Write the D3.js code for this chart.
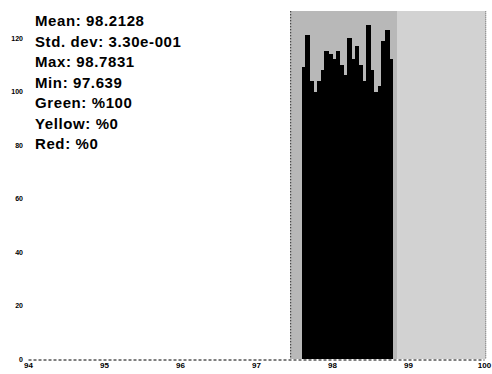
<!DOCTYPE html>
<html><head><meta charset="utf-8">
<script src="https://cdn.jsdelivr.net/npm/d3@7"></script>
<style>body{margin:0;background:#fff}svg{display:block}</style>
</head><body>
<svg id="c" width="492" height="374"></svg>
<script>
// ---- data ----
const binStarts = [97.60,97.65,97.70,97.75,97.80,97.85,97.90,97.95,98.00,98.05,98.10,98.15,
                   98.20,98.25,98.30,98.35,98.40,98.45,98.50,98.55,98.60,98.65,98.70,98.75];
const binCounts = [109,121,104,100,104,108,115,114,112,115,110,106,
                   120,112,117,110,104,125,108,100,102,119,123,112];
const binWidth = 0.05;
const xTicks = [94,95,96,97,98,99,100];
const yTicks = [0,20,40,60,80,100,120];
const zoneFrom = [97.45, 98.85];
const zoneTo   = [98.85, 100.03];
const zoneShade = ["#b8b8b8", "#d2d2d2"];
const statLines = ["Mean: 98.2128","Std. dev: 3.30e-001","Max: 98.7831","Min: 97.639",
                   "Green: %100","Yellow: %0","Red: %0"];

// ---- chart ----
const svg = d3.select("#c");
const x = d3.scaleLinear().domain([94,100]).range([28,484]);
const y = d3.scaleLinear().domain([0,120]).range([359,38]);
const yTop = 130;

// zones
svg.append("g").attr("shape-rendering","crispEdges").selectAll("rect").data(zoneFrom).join("rect")
  .attr("x", (d)=>x(d)).attr("width",(d,i)=>x(zoneTo[i])-x(d))
  .attr("y", y(yTop)).attr("height", y(0)-y(yTop))
  .attr("fill",(d,i)=>zoneShade[i]);

// zone borders (dotted)
svg.append("line").attr("x1",x(zoneFrom[0])+0.5).attr("x2",x(zoneFrom[0])+0.5)
  .attr("y1",y(yTop)).attr("y2",y(0)).attr("stroke","#000").attr("stroke-dasharray","1,2");
svg.append("line").attr("x1",x(zoneTo[1])-0.5).attr("x2",x(zoneTo[1])-0.5)
  .attr("y1",y(yTop)).attr("y2",y(0)).attr("stroke","#666").attr("stroke-dasharray","1,1");

// bars
svg.append("g").attr("shape-rendering","crispEdges").selectAll("rect").data(binStarts).join("rect")
  .attr("x",(d)=>x(d)).attr("width",(d)=>x(d+binWidth)-x(d)+0.6)
  .attr("y",(d,i)=>y(binCounts[i])).attr("height",(d,i)=>y(0)-y(binCounts[i]))
  .attr("fill","#000");

// x axis
const xa = svg.append("g").attr("transform",`translate(0,${y(0)+0.5})`)
  .call(d3.axisBottom(x).tickValues(xTicks).tickSize(0).tickPadding(3).tickFormat(d3.format("d")));
xa.select(".domain").attr("stroke","#000").attr("stroke-dasharray","3,2");
xa.selectAll("text").attr("font-family","Liberation Sans, Arial, sans-serif")
  .attr("font-size",8).attr("font-weight","bold").attr("fill","#000");

// y axis labels
const ya = svg.append("g").attr("transform",`translate(${x(94)-2},0)`)
  .call(d3.axisLeft(y).tickValues(yTicks).tickSize(0).tickPadding(3).tickFormat(d3.format("d")));
ya.select(".domain").remove();
ya.selectAll("text").attr("font-family","Liberation Sans, Arial, sans-serif")
  .attr("font-size",7).attr("font-weight","bold").attr("fill","#000");

// stats text
svg.append("g").selectAll("text").data(statLines).join("text")
  .attr("x",35).attr("y",(d,i)=>26+i*20.5)
  .attr("font-family","Liberation Sans, Arial, sans-serif")
  .attr("font-size",15).attr("font-weight","bold").attr("letter-spacing",0.6)
  .attr("fill","#000").text(d=>d);
</script>
</body></html>
